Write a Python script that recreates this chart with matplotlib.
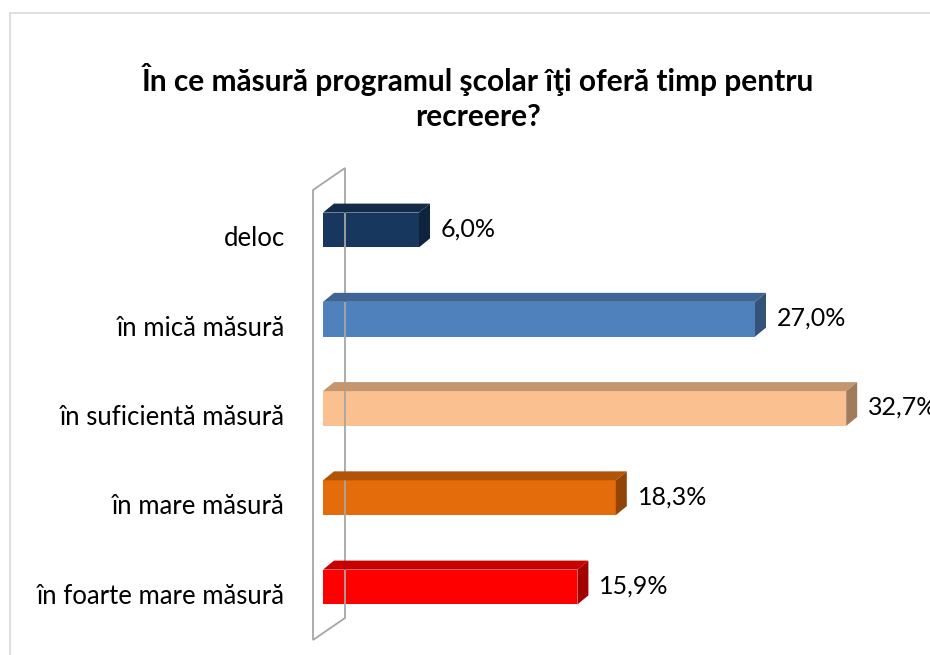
import matplotlib
matplotlib.use("Agg")
import matplotlib.pyplot as plt
from matplotlib.patches import Polygon
from matplotlib.lines import Line2D
import numpy as np

categories = ["deloc", "în mică măsură", "în suficientă măsură", "în mare măsură", "în foarte mare măsură"]
values = [6.0, 27.0, 32.7, 18.3, 15.9]
labels = ["6,0%", "27,0%", "32,7%", "18,3%", "15,9%"]
colors = ["#17375E", "#4F81BD", "#FAC090", "#E46C0A", "#FF0000"]
title = "În ce măsură programul şcolar îţi oferă timp pentru\nrecreere?"

W, H = 930, 655
fig = plt.figure(figsize=(W / 100, H / 100), dpi=100)
fig.patch.set_facecolor("white")

# outer chart border (light gray)
fig.add_artist(Line2D([10 / W, 10 / W], [0, 1 - 13 / H], color="#D9D9D9", lw=1.2))
fig.add_artist(Line2D([10 / W, 1], [1 - 13 / H, 1 - 13 / H], color="#D9D9D9", lw=1.2))

x0, x1 = 323, 323 + 16.0 * 36
ytop, ybot = 190, 640
ax = fig.add_axes([x0 / W, 1 - ybot / H, (x1 - x0) / W, (ybot - ytop) / H])
ax.set_xlim(0, 36)
spacing = 89.25
ax.set_ylim(4 + (ybot - 587) / spacing, -(230 - ytop) / spacing)
ax.axis("off")

ypos = np.arange(len(categories))
bh = 0.39
fig.canvas.draw()
T = ax.transData


def darker(c, f):
    rgb = np.array(matplotlib.colors.to_rgb(c))
    return tuple(rgb * f)


# back wall (parallelogram)
ya, yb = ax.get_ylim()
p_top = T.transform((0, yb))
p_bot = T.transform((0, ya))
wall = [(p_top[0] - 10, p_top[1]), (p_top[0] + 22, p_top[1] + 22),
        (p_bot[0] + 22, p_bot[1] + 22), (p_bot[0] - 10, p_bot[1])]
fig.add_artist(Polygon(wall, closed=True, transform=None, facecolor="none",
                       edgecolor="#A6A6A6", lw=1.3))

dx, dy = 11, 9
for y, v, c, lab in zip(ypos, values, colors, labels):
    ax.barh(y, v, height=bh, left=0, color=c, zorder=3)
    tl = T.transform((0, y - bh / 2))
    tr = T.transform((v, y - bh / 2))
    br = T.transform((v, y + bh / 2))
    top = [tl, tr, (tr[0] + dx, tr[1] + dy), (tl[0] + dx, tl[1] + dy)]
    side = [tr, br, (br[0] + dx, br[1] + dy), (tr[0] + dx, tr[1] + dy)]
    fig.add_artist(Polygon(top, closed=True, transform=None, facecolor=darker(c, 0.78), edgecolor="none"))
    fig.add_artist(Polygon(side, closed=True, transform=None, facecolor=darker(c, 0.64), edgecolor="none"))
    mid = T.transform((v, y))
    fig.text((mid[0] + dx + 11) / W, (mid[1] + 1) / H, lab, ha="left", va="center",
             fontsize=18, family="Lato", color="black")
    cy = T.transform((0, y))[1]
    fig.text(285 / W, (cy - 9) / H, categories[y], ha="right", va="center",
             fontsize=18.5, family="Lato", color="black")

fig.text(478 / W, 1 - 97 / H, title, ha="center", va="center", fontsize=21.5,
         family="Lato", fontweight="bold", linespacing=1.3)

fig.savefig("out.png", dpi=100)
